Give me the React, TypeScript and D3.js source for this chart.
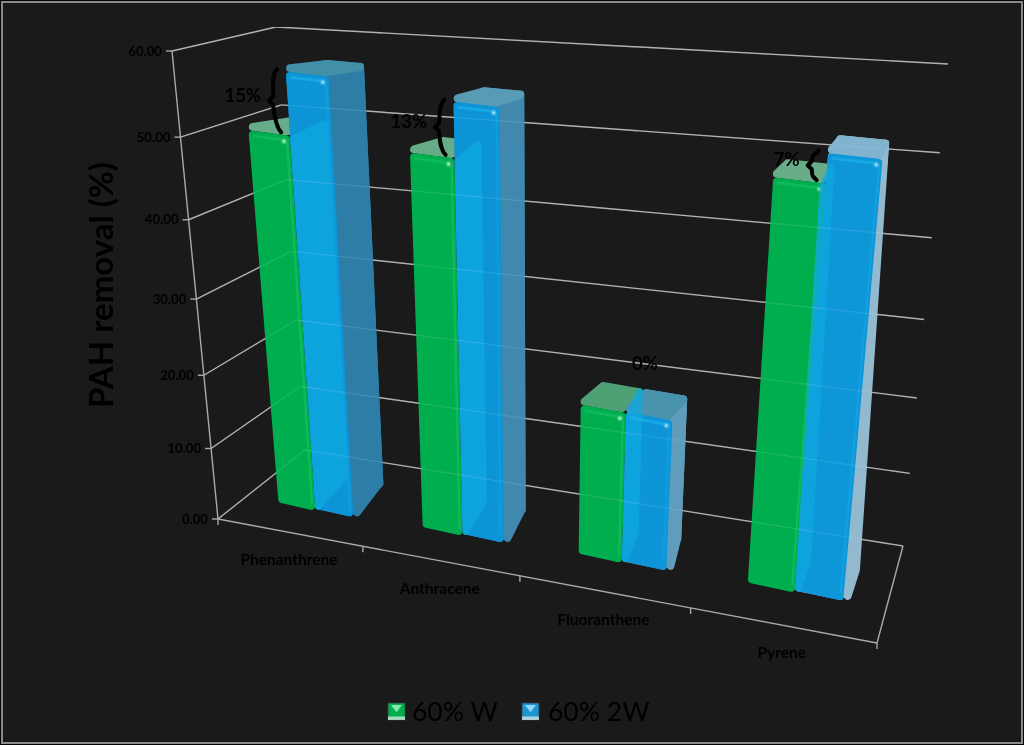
import * as d3 from "d3";

const categories = ["Phenanthrene", "Anthracene", "Fluoranthene", "Pyrene"];
const seriesNames = ["60% W", "60% 2W"];
const valuesW = [50, 49.3, 20.3, 50.7];
const values2W = [57.5, 55.8, 20.2, 54];
const gainLabels = ["15%", "13%", "0%", "7%"];
const yTicks = [0, 10, 20, 30, 40, 50, 60];

const W = 1024;
const H = 745;
const INK = "#030303";
const AXIS = "#a9a9a9";

type Pt = [number, number];

// corners of the chart box on the page, indexed [u][v][w]
const corners: Pt[][][] = [
  [
    [[218, 519], [305, 450]],
    [[172, 51], [276, 27]],
  ],
  [
    [[877, 643], [903, 546]],
    [[929, 133], [948, 64]],
  ],
];

const warp = (t: number, k: number) => t / (t + k * (1 - t));

const uScale = d3.scaleBand<string>().domain(categories).range([0, 1]);
const vScale = d3.scaleLinear().domain([0, 60]).range([0, 1]);
const lerp = (a: number, b: number, t: number) => a + (b - a) * t;

// u, w in 0..1 on the box, value in data units
function project(u: number, value: number, w: number): Pt {
  const tu = warp(u, 1.183);
  const tv = warp(vScale(value), 1.128);
  const out: Pt = [0, 0];
  for (let i = 0; i < 2; i++) {
    const c = corners;
    const a = lerp(c[0][0][0][i], c[0][0][1][i], w);
    const b = lerp(c[0][1][0][i], c[0][1][1][i], w);
    const d = lerp(c[1][0][0][i], c[1][0][1][i], w);
    const e = lerp(c[1][1][0][i], c[1][1][1][i], w);
    out[i] = lerp(lerp(a, b, tv), lerp(d, e, tv), tu);
  }
  return out;
}

// the bars get shallower towards the right of the box
const depthFront = d3.scaleLinear().domain([0, 1]).range([0.31, 0.37]);
const depthBack = d3.scaleLinear().domain([0, 1]).range([0.73, 0.63]);

// bars sit in the band from .24 to .78, two side by side
const barScale = d3.scaleBand<number>().domain([0, 1]).range([0.24, 0.77]);
const barU = (cat: string, s: number) => {
  const x0 = uScale(cat) as number;
  const bw = uScale.bandwidth();
  return [x0 + barScale(s)! * bw, x0 + (barScale(s)! + barScale.bandwidth()) * bw];
};

const poly = (pts: Pt[]) => d3.line()(pts) + "Z";
const seg = (a: Pt, b: Pt) => d3.line()([a, b])!;

function Face({ pts, fill, opacity = 1, round = 8 }: { pts: Pt[]; fill: string; opacity?: number; round?: number }) {
  return (
    <path
      d={poly(pts)}
      fill={fill}
      stroke={fill}
      strokeWidth={round}
      strokeLinejoin="round"
      opacity={opacity}
    />
  );
}

function inset(pts: Pt[], d: number): Pt[] {
  const c = [d3.mean(pts, (p) => p[0])!, d3.mean(pts, (p) => p[1])!];
  return pts.map((p) => {
    const dx = c[0] - p[0];
    const dy = c[1] - p[1];
    return [p[0] + Math.sign(dx) * d, p[1] + Math.sign(dy) * d] as Pt;
  });
}

function barCorners(cat: string, s: number, value: number) {
  const [u0, u1] = barU(cat, s);
  const mid = (u0 + u1) / 2;
  const front = depthFront(mid);
  const back = depthBack(mid);
  return {
    uMid: mid,
    f00: project(u0, 0, front),
    f10: project(u1, 0, front),
    f01: project(u0, value, front),
    f11: project(u1, value, front),
    b10: project(u1, 0, back),
    b01: project(u0, value, back),
    b11: project(u1, value, back),
  };
}

function GreenBar({ cat, value }: { cat: string; value: number }) {
  const { f00, f10, f01, f11, b01, b11 } = barCorners(cat, 0, value);
  const lid = d3.interpolateRgb("#3f9a68", "#6aae8b")(value / 55);
  return (
    <g>
      <Face pts={inset([b01, b11, f11, f01], 4)} fill={lid} />
      <Face pts={inset([f01, f11, f10, f00], 4)} fill="#00ae4e" />
      <path d={seg([f01[0] + 4, f01[1] + 5], [f11[0] - 4, f11[1] + 5])} stroke="#14c86c" strokeWidth={3} opacity={0.45} />
      <path d={seg([f11[0] - 3, f11[1] + 6], [f10[0] - 3, f10[1] - 6])} stroke="#16c468" strokeWidth={2.5} opacity={0.5} />
      <circle cx={f11[0] - 6} cy={f11[1] + 6} r={4.5} fill="url(#glow-0)" />
    </g>
  );
}

function BlueBar({ cat, value, valueW }: { cat: string; value: number; valueW: number }) {
  const { uMid, f00, f10, f01, f11, b10, b01, b11 } = barCorners(cat, 1, value);
  const green = barCorners(cat, 0, valueW);
  const side = d3.interpolateRgb("#2a7ba6", "#a9c6d8")(uMid * uMid);
  const lid = d3.interpolateRgb("#35879f", "#8ab8d4")(uMid * (value / 55));
  // the neighbouring green side wall shows through the blue glass
  const strip: Pt[] = [green.f11, green.b11, green.b10, green.f10];
  return (
    <g>
      <Face pts={inset([f01, b01, b11, b10, f10, f00], 3)} fill={side} round={6} />
      <Face pts={inset([f11, b11, b10, f10], 4)} fill={side} />
      <Face pts={inset([b01, b11, f11, f01], 4)} fill={lid} />
      <Face pts={inset([f01, f11, f10, f00], 4)} fill="#0795d9" opacity={0.97} />
      <Face pts={inset(strip, 3)} fill="#13a8e0" opacity={0.8} round={6} />
      <path d={seg([f01[0] + 4, f01[1] + 5], [f11[0] - 4, f11[1] + 5])} stroke="#22b8f0" strokeWidth={3} opacity={0.55} />
      <path d={seg([f11[0] - 3, f11[1] + 6], [f10[0] - 3, f10[1] - 6])} stroke="#1aa6e4" strokeWidth={2.5} opacity={0.5} />
      <circle cx={f11[0] - 6} cy={f11[1] + 6} r={4.5} fill="url(#glow-1)" />
    </g>
  );
}

function Brace({ a, b, dx }: { a: Pt; b: Pt; dx: number }) {
  // a is the upper end, b the lower end, tip sticks out to the left
  const my = (a[1] + b[1]) / 2;
  const mx = (a[0] + b[0]) / 2 + dx;
  const path = d3.path();
  path.moveTo(a[0], a[1]);
  path.bezierCurveTo(a[0] - 6, a[1] + 6, mx + 5, my - 12, mx + 4, my - 4);
  path.lineTo(mx, my);
  path.lineTo(mx + 4, my + 4);
  path.bezierCurveTo(mx + 5, my + 12, b[0] - 6, b[1] - 6, b[0], b[1]);
  return <path d={path.toString()} fill="none" stroke="#000" strokeWidth={4} strokeLinecap="round" strokeLinejoin="round" />;
}

function LegendIcon({ x, y, color, light }: { x: number; y: number; color: string; light: string }) {
  const s = 17;
  return (
    <g transform={`translate(${x},${y})`}>
      <rect width={s} height={s} fill={color} stroke="#3a3a3a" strokeWidth={0.8} />
      <path d={poly([[3, 2], [s - 3, 2], [s / 2, s * 0.55]])} fill={light} opacity={0.85} />
      <rect y={s - 3.5} width={s} height={3.5} fill="#cfe3df" opacity={0.8} />
    </g>
  );
}

export default function App() {
  const gridBack = yTicks.map((t) => [project(0, t, 1), project(1, t, 1)] as Pt[]);
  const gridSide = yTicks.map((t) => [project(0, t, 0), project(0, t, 1)] as Pt[]);
  const line = d3.line();

  return (
    <svg width={W} height={H} style={{ position: "absolute", left: 0, top: 0 }} fontFamily="Lato, Carlito, sans-serif">
      <defs>
        <radialGradient id="glow-0">
          <stop offset="0%" stopColor="#d8ffe6" />
          <stop offset="100%" stopColor="#00ae4e" stopOpacity={0} />
        </radialGradient>
        <radialGradient id="glow-1">
          <stop offset="0%" stopColor="#c8f4ff" />
          <stop offset="100%" stopColor="#0795d9" stopOpacity={0} />
        </radialGradient>
        <filter id="soft" x="0" y="0" width="100%" height="100%">
          <feGaussianBlur stdDeviation={0.45} />
        </filter>
      </defs>
      <rect width={W} height={H} fill="#1a1a1a" />
      <rect x={0.5} y={0.5} width={W - 1} height={H - 1} fill="none" stroke="#050505" />
      <rect x={2} y={2} width={W - 4} height={H - 4} fill="none" stroke="#8a8a8a" strokeWidth={2} />

      <g filter="url(#soft)">
        {/* walls and floor */}
        <g fill="none" stroke={AXIS} strokeWidth={1.4}>
          {gridBack.map((g, i) => (
            <path key={i} d={line(g)!} />
          ))}
          {gridSide.map((g, i) => (
            <path key={i} d={line(g)!} />
          ))}
          <path d={line([project(0, 0, 0), project(0, 60, 0)])!} />
          <path d={line([project(0, 0, 0), project(1, 0, 0)])!} />
          <path d={line([project(1, 0, 0), project(1, 0, 1)])!} />
          {yTicks.map((t) => {
            const p = project(0, t, 0);
            return <path key={t} d={line([[p[0] - 6, p[1]], p])!} />;
          })}
          {d3.range(0, 5).map((i) => {
            const p = project(i / 4, 0, 0);
            return <path key={i} d={line([p, [p[0], p[1] + 6]])!} />;
          })}
        </g>

        {yTicks.map((t) => {
          const p = project(0, t, 0);
          return (
            <text key={t} x={p[0] - 10} y={p[1] + 4.5} textAnchor="end" fontSize={13.2} fill={INK} fontWeight={700}>
              {t.toFixed(2)}
            </text>
          );
        })}

        {categories.map((c, i) => (
          <g key={c}>
            <GreenBar cat={c} value={valuesW[i]} />
            <BlueBar cat={c} value={values2W[i]} valueW={valuesW[i]} />
          </g>
        ))}

        {/* grid shows faintly through the glass */}
        <g fill="none" stroke="#d8e8f0" strokeWidth={1.2} opacity={0.14}>
          {gridBack.map((g, i) => (
            <path key={i} d={line(g)!} />
          ))}
          {gridSide.map((g, i) => (
            <path key={i} d={line(g)!} />
          ))}
        </g>

        {categories.map((c) => {
          const p = project((uScale(c) as number) + uScale.bandwidth() / 2, 0, 0);
          return (
            <text key={c} x={p[0]} y={p[1] + 33} textAnchor="middle" fontSize={15.5} fontWeight={700} fill={INK}>
              {c}
            </text>
          );
        })}

        {categories.map((c, i) => {
          const u = barU(c, 1)[0];
          const d = depthFront(u);
          const top = project(u, values2W[i], d);
          const low = project(u, valuesW[i], d);
          const hasBrace = Math.abs(values2W[i] - valuesW[i]) > 1;
          const tipX = (top[0] + low[0]) / 2 - 19;
          const tipY = (top[1] + low[1]) / 2;
          return (
            <g key={c}>
              {hasBrace && (
                <Brace a={[top[0] - 9, top[1] - 3]} b={[low[0] - 9, low[1] - 3]} dx={-10} />
              )}
              <text
                x={hasBrace ? tipX - 8 : top[0] + 19}
                y={hasBrace ? tipY - 2 : top[1] - 43}
                textAnchor={hasBrace ? "end" : "middle"}
                fontSize={18.5}
                fontWeight={700}
                fill={INK}
              >
                {gainLabels[i]}
              </text>
            </g>
          );
        })}

        <text
          transform="translate(113,285) rotate(-90)"
          textAnchor="middle"
          fontSize={33}
          fontWeight={700}
          fill={INK}
        >
          PAH removal (%)
        </text>

        <LegendIcon x={388} y={703} color="#00ae4e" light="#9ff0bf" />
        <text x={412} y={721} fontSize={26.5} fill={INK}>{seriesNames[0]}</text>
        <LegendIcon x={522} y={703} color="#1f95d3" light="#a8e0f8" />
        <text x={548} y={721} fontSize={26.5} fill={INK}>{seriesNames[1]}</text>
      </g>
    </svg>
  );
}
